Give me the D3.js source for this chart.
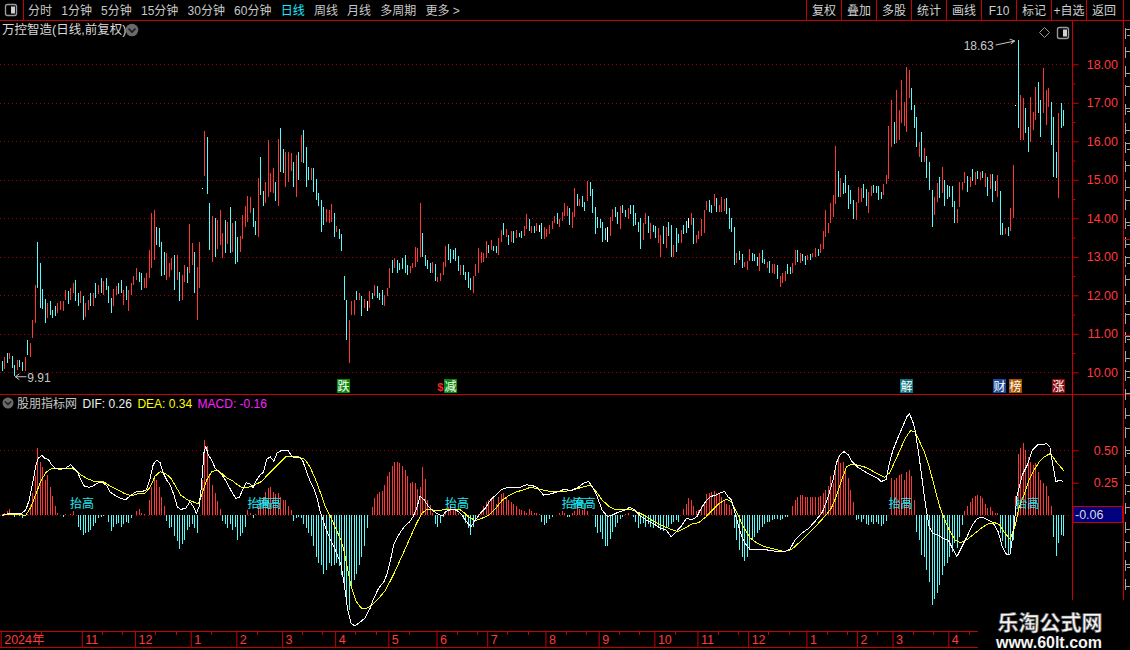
<!DOCTYPE html>
<html><head><meta charset="utf-8">
<script src="https://cdn.jsdelivr.net/npm/d3@7"></script>
<style>
html,body{margin:0;padding:0;background:#000;overflow:hidden}
svg{display:block}
text{font-family:"Liberation Sans","Noto Sans CJK SC",sans-serif}
</style></head><body>
<svg id="c" width="1130" height="650"></svg>
<script>
// ---------------- DATA ----------------
const highs = [
10.29,10.41,10.49,10.49,10.42,10.19,10.32,10.32,10.28,10.41,
10.84,10.77,11.36,12.27,13.39,12.85,12.16,11.90,11.79,11.84,
11.62,11.73,11.79,11.84,11.86,12.14,12.10,12.18,12.31,12.40,
12.07,12.10,11.97,11.81,11.88,12.05,12.05,12.31,12.27,12.44,
12.36,12.44,12.24,11.92,12.16,12.24,12.33,12.40,12.14,12.24,
12.14,12.31,12.50,12.70,12.61,12.57,12.44,12.57,13.18,14.15,
14.22,13.78,13.74,13.39,13.13,13.09,12.83,12.96,13.05,13.05,
12.61,12.53,12.79,12.74,13.85,13.35,13.13,12.74,13.39,14.78,
16.28,16.12,14.41,14.06,14.00,13.96,14.22,13.61,13.96,13.91,
14.29,13.87,13.94,13.52,13.54,14.09,14.32,14.58,14.55,14.26,
13.94,15.04,15.60,14.72,14.95,16.03,15.17,15.30,14.95,16.07,
16.34,15.79,15.73,15.71,15.69,15.45,15.65,15.71,16.16,16.29,
15.84,15.34,15.30,15.30,15.01,14.65,14.48,14.30,14.23,14.22,
14.37,14.15,13.80,13.71,13.58,12.50,11.88,11.36,11.84,11.88,
12.10,12.05,11.98,11.90,11.84,12.11,12.05,12.27,12.24,12.07,
12.14,12.01,12.18,12.70,12.92,12.96,12.92,12.85,12.96,13.05,
12.79,12.76,12.85,13.25,13.22,14.39,13.61,13.05,12.92,12.83,
12.87,12.81,12.48,12.59,12.87,13.28,13.33,13.19,13.18,13.22,
13.02,12.79,12.79,12.61,12.61,12.44,12.50,12.81,13.22,13.13,
13.09,13.42,13.31,13.44,13.28,13.28,13.48,13.70,13.87,13.71,
13.57,13.68,13.68,13.70,13.63,13.68,13.80,14.11,13.97,13.80,
13.80,13.87,13.83,13.87,13.78,13.71,13.83,13.94,14.06,14.13,
13.97,14.17,14.41,14.32,14.26,14.17,14.78,14.63,14.49,14.58,
14.43,14.98,14.93,14.75,14.30,14.04,13.97,13.91,13.74,13.78,
14.03,14.23,14.30,14.17,14.32,14.35,14.22,14.28,14.35,14.35,
14.15,13.91,14.00,13.89,14.15,14.06,13.87,13.83,13.80,13.74,
13.57,13.80,13.78,13.90,13.83,13.31,13.74,13.59,13.70,13.83,
13.94,14.00,14.15,14.00,13.57,13.68,13.97,14.22,14.46,14.48,
14.35,14.63,14.52,14.35,14.55,14.49,14.52,14.26,14.00,13.78,
13.09,13.16,13.07,12.87,12.90,13.19,13.09,13.07,13.00,13.09,
13.18,12.94,12.87,12.90,12.81,12.81,12.79,12.50,12.59,12.64,
12.81,12.73,12.83,13.18,13.18,13.11,13.07,13.02,13.05,13.07,
13.11,13.22,13.19,13.33,13.68,14.22,13.87,14.41,14.61,15.88,
15.24,15.04,14.91,15.13,14.87,14.74,14.48,14.43,14.82,14.78,
14.89,14.75,14.69,14.84,14.87,14.84,14.84,14.69,14.89,15.13,
16.40,17.07,16.51,17.33,16.81,17.58,17.03,17.92,17.84,17.38,
16.94,16.64,15.99,16.25,15.82,15.62,15.45,14.74,14.56,14.91,
15.08,15.34,15.00,14.87,14.84,14.84,14.46,14.23,14.93,14.93,
15.21,15.10,15.08,15.27,15.19,15.24,15.21,15.24,15.17,15.06,
15.15,15.15,14.98,15.13,14.72,13.89,13.74,13.78,14.26,15.39,
16.94,18.63,17.20,17.12,16.86,16.38,17.16,16.77,17.42,17.55,
17.07,17.90,17.33,17.38,17.03,16.64,15.73,16.73,16.99,16.81
];
const lows = [
10.04,10.08,10.23,10.34,10.10,9.91,10.06,10.15,10.04,10.04,
10.45,10.41,10.88,11.29,12.20,11.66,11.64,11.29,11.40,11.49,
11.40,11.45,11.53,11.62,11.58,11.88,11.77,11.88,12.05,11.84,
11.71,11.79,11.36,11.43,11.62,11.71,11.71,11.92,12.03,12.05,
12.01,12.14,11.79,11.53,11.71,12.01,12.03,12.05,11.75,11.88,
11.60,12.01,12.27,12.40,12.35,12.14,12.18,12.18,12.44,12.70,
12.92,13.31,13.26,12.50,12.53,12.40,12.48,12.66,12.14,12.40,
11.84,11.88,12.35,12.33,12.59,12.79,12.07,11.36,12.18,14.78,
15.10,14.63,13.18,12.87,13.00,13.19,13.31,12.96,13.11,13.33,
13.09,13.13,12.81,12.87,13.13,13.45,13.78,13.91,14.13,13.78,
13.57,13.52,14.61,14.32,14.41,14.56,14.69,14.65,14.46,14.32,
15.19,15.17,14.81,14.93,15.24,14.81,14.55,15.00,15.47,15.43,
14.82,15.00,15.00,14.69,14.48,14.32,13.65,13.83,13.91,13.87,
13.91,13.51,13.65,13.45,13.16,11.88,10.84,10.23,11.49,11.49,
11.88,11.88,11.46,11.66,11.58,11.66,11.90,11.98,11.92,11.88,
11.75,11.72,11.97,12.20,12.59,12.70,12.59,12.66,12.68,12.57,
12.53,12.59,12.70,12.73,12.87,13.00,13.00,12.76,12.68,12.57,
12.57,12.38,12.35,12.38,12.53,12.73,12.92,12.85,12.94,12.90,
12.64,12.53,12.53,12.40,12.18,12.14,12.07,12.50,12.57,12.85,
12.87,12.96,13.11,13.18,13.16,13.11,13.05,13.39,13.57,13.51,
13.31,13.39,13.37,13.48,13.51,13.48,13.54,13.71,13.68,13.63,
13.63,13.68,13.65,13.45,13.45,13.52,13.59,13.71,13.87,13.85,
13.78,13.94,14.06,14.06,13.83,13.74,14.03,14.32,14.32,14.29,
14.20,14.46,14.58,14.15,13.59,13.74,13.74,13.39,13.44,13.39,
13.54,13.94,14.04,13.85,13.71,14.13,14.04,13.97,14.11,13.80,
13.83,13.65,13.19,13.44,13.85,13.63,13.45,13.65,13.48,13.37,
12.99,13.33,13.22,13.54,12.99,13.00,13.13,13.37,13.37,13.59,
13.61,13.74,13.83,13.33,13.37,13.45,13.54,13.63,14.22,14.17,
14.15,14.32,14.17,14.17,14.17,14.20,14.11,13.71,13.65,12.79,
12.85,12.92,12.70,12.73,12.66,12.90,12.90,12.90,12.76,12.64,
12.83,12.81,12.70,12.57,12.57,12.55,12.42,12.21,12.33,12.38,
12.55,12.55,12.59,12.79,12.87,12.85,12.90,12.79,12.92,12.92,
12.99,13.00,13.02,13.11,13.19,13.51,13.63,13.87,14.04,14.37,
14.56,14.56,14.63,14.65,14.23,14.37,13.97,13.96,14.39,14.43,
14.52,14.32,14.13,14.58,14.67,14.67,14.48,14.49,14.61,14.89,
15.01,15.84,15.93,15.95,16.03,16.48,16.40,16.23,17.12,16.81,
16.34,15.86,15.58,15.47,15.45,15.04,14.74,13.77,14.09,14.43,
14.52,14.65,14.32,14.49,14.55,14.29,13.89,13.89,14.29,14.74,
14.91,14.69,14.81,14.98,14.87,15.01,15.00,15.04,14.81,14.58,
14.75,14.43,14.72,14.56,13.57,13.57,13.59,13.54,13.68,14.00,
16.94,16.34,16.03,16.03,16.21,15.71,15.99,16.29,16.55,16.73,
16.12,16.73,16.42,16.90,15.90,15.08,15.04,14.52,16.34,16.40
];
// r = up (red), c = down (cyan), w = flat, d = one-price bar
const dirs = (
"crcrccrccr"+"crrrccccrc"+"ccrrrrcrrc"+"crcrrcrcrc"+"rcccrrccrc"+"rrrrccrrrr"+
"rccccrrrcr"+"crrcrrcrrd"+"rccrcrrrcr"+"crccrrrrrc"+"crccrrrrcr"+"ccrrrcrcrc"+
"ccrcccccrr"+"rcrccccrrr"+"crcrwrcrcc"+"crrrcrcccc"+"crrrrrcccc"+"rcrrrrcccc"+
"crccccrrrr"+"rrcrccrrcr"+"crcrccrrcr"+"crwcrrrrrc"+"rrrrcrrcrc"+"crcccccccw"+
"rrccrccrcc"+"cccrrcrccr"+"rcrccrccrc"+"cwrcrrrrrc"+"crcrrrcccc"+"rccrrrcccr"+
"ccrcrrcrrr"+"ccrrcrccrc"+"rrcrrrrrrr"+"crcccccrrr"+"ccrrccccrr"+"rrcrrrrrrc"+
"ccrcrcccrr"+"crcccccrrr"+"rcrcrcrcrc"+"rccrccrcrr"+"dcrrccrrrc"+"crrrcccrcc").split("");

const macd = [
0.01,0.02,0.03,0.045,0.02,-0.01,0.01,-0.005,-0.02,0.005,
0.01,0.08,0.17,0.30,0.52,0.41,0.37,0.27,0.31,0.22,
0.15,0.07,0.02,0.0,-0.01,0.01,0.0,0.01,0.03,0.0,
-0.09,-0.11,-0.15,-0.14,-0.13,-0.11,-0.08,-0.06,-0.02,-0.015,
-0.005,0.0,-0.05,-0.12,-0.09,-0.07,-0.06,-0.09,-0.07,-0.05,
-0.06,-0.02,0.0,0.03,0.05,0.015,0.01,0.0,0.12,0.22,
0.30,0.27,0.22,0.14,0.07,-0.04,-0.10,-0.09,-0.16,-0.20,
-0.26,-0.22,-0.19,-0.11,-0.09,-0.07,-0.10,-0.14,0.0,0.27,
0.58,0.53,0.30,0.23,0.17,0.11,0.05,-0.04,-0.07,-0.10,
-0.07,-0.11,-0.09,-0.19,-0.16,-0.14,-0.09,0.04,0.015,-0.02,
0.01,0.07,0.12,0.14,0.18,0.21,0.22,0.18,0.16,0.17,
0.14,0.12,0.12,0.07,0.04,-0.04,-0.02,-0.015,-0.02,-0.07,
-0.10,-0.14,-0.16,-0.24,-0.32,-0.37,-0.38,-0.45,-0.42,-0.37,
-0.39,-0.38,-0.37,-0.39,-0.46,-0.55,-0.65,-0.73,-0.55,-0.50,
-0.45,-0.38,-0.32,-0.24,-0.10,0.0,0.06,0.13,0.16,0.18,
0.19,0.23,0.30,0.33,0.38,0.41,0.41,0.40,0.38,0.35,
0.30,0.25,0.26,0.25,0.20,0.22,0.37,0.28,0.12,0.08,
0.015,-0.07,-0.09,-0.06,-0.015,0.03,0.06,0.07,0.05,0.03,
0.02,0.0,-0.03,-0.06,-0.10,-0.15,-0.09,-0.04,0.01,0.03,
0.07,0.10,0.12,0.13,0.14,0.09,0.14,0.16,0.17,0.14,
0.12,0.105,0.09,0.07,0.05,0.04,0.03,0.015,0.05,0.03,
0.02,0.015,0.01,-0.05,-0.075,-0.06,-0.03,-0.015,0.0,0.0,
0.02,0.03,0.02,-0.01,-0.015,0.02,0.03,0.07,0.05,0.04,
0.05,0.03,0.0,0.0,-0.09,-0.14,-0.13,-0.18,-0.24,-0.24,
-0.18,-0.13,-0.09,-0.06,-0.03,-0.01,0.01,0.015,0.0,-0.01,
-0.05,-0.10,-0.07,-0.06,-0.09,-0.07,-0.09,-0.10,-0.07,-0.09,
-0.11,-0.12,-0.10,-0.09,-0.07,-0.05,-0.035,-0.05,0.0,0.05,
0.09,0.13,0.12,0.07,0.03,0.04,0.07,0.105,0.16,0.17,
0.18,0.19,0.17,0.16,0.14,0.12,0.09,0.08,0.05,-0.10,
-0.19,-0.27,-0.32,-0.35,-0.32,-0.26,-0.19,-0.17,-0.14,-0.11,
-0.09,-0.07,-0.055,-0.05,-0.035,-0.03,-0.025,-0.035,-0.025,-0.015,
-0.01,0.0,0.07,0.12,0.14,0.155,0.155,0.14,0.14,0.14,
0.14,0.14,0.14,0.15,0.17,0.195,0.225,0.30,0.25,0.35,
0.46,0.40,0.41,0.34,0.285,0.195,0.105,-0.035,-0.03,-0.05,
-0.03,-0.07,-0.075,-0.055,-0.065,-0.05,-0.065,-0.085,-0.065,-0.04,
0.0,0.285,0.27,0.29,0.31,0.32,0.27,0.33,0.345,0.30,
0.12,-0.125,-0.19,-0.305,-0.32,-0.42,-0.51,-0.69,-0.64,-0.60,
-0.54,-0.46,-0.39,-0.37,-0.32,-0.28,-0.215,-0.255,-0.165,-0.075,
0.03,0.07,0.105,0.13,0.15,0.155,0.15,0.13,0.09,0.055,
0.06,0.03,0.015,0.02,-0.14,-0.20,-0.25,-0.305,-0.29,-0.19,
0.145,0.475,0.515,0.56,0.505,0.45,0.41,0.385,0.40,0.335,
0.27,0.245,0.225,0.145,0.07,-0.165,-0.31,-0.215,-0.15,-0.16
];
// [bar index, value]
const difPts = [[0,0],[3.4,0.015],[7.5,0.01],[9.5,0.04],[10.9,0.12],[12.2,0.25],[13.6,0.39],[14.5,0.44],[15.9,0.46],[17,0.44],[18.4,0.43],[19.7,0.39],[21.1,0.36],[23.1,0.36],[25.1,0.36],[27.2,0.39],[28.5,0.36],[29.9,0.335],[31.3,0.27],[32.6,0.225],[34.4,0.215],[36,0.225],[38.1,0.25],[40.1,0.25],[41.5,0.225],[42.8,0.18],[44.9,0.15],[46.9,0.13],[48.9,0.12],[51,0.155],[53,0.18],[55,0.18],[57.1,0.195],[58.4,0.27],[59.8,0.39],[61.2,0.425],[62.5,0.405],[63.9,0.32],[65.2,0.27],[66.6,0.23],[68,0.155],[69.3,0.065],[70.7,0.045],[72.7,0.055],[74.3,0.105],[75.7,0.065],[76.8,0.015],[77.9,0.065],[78.8,0.22],[79.8,0.48],[80.6,0.53],[81.5,0.465],[82.9,0.425],[84.3,0.36],[85.6,0.335],[87,0.31],[88.3,0.27],[89.7,0.22],[91.1,0.17],[92.4,0.13],[93.8,0.14],[95.1,0.195],[96.5,0.25],[97.8,0.245],[99.2,0.215],[100.6,0.27],[101.9,0.31],[103.3,0.33],[104.6,0.43],[106,0.45],[107.4,0.415],[108.7,0.48],[110.1,0.495],[111.8,0.5],[113.2,0.495],[114.6,0.45],[116.2,0.445],[117.8,0.44],[118.9,0.415],[120.3,0.335],[121.6,0.27],[123,0.215],[124.3,0.145],[125.7,0.03],[127.1,-0.05],[128.4,-0.125],[129.8,-0.19],[131.1,-0.24],[132.5,-0.305],[133.9,-0.38],[135.2,-0.535],[136.6,-0.73],[137.9,-0.83],[139.3,-0.85],[141.3,-0.825],[143.4,-0.79],[145.4,-0.715],[146.8,-0.64],[148.8,-0.56],[150.9,-0.51],[152.2,-0.445],[153.6,-0.33],[154.9,-0.215],[157,-0.14],[159,-0.085],[161,-0.05],[162.4,-0.01],[163.8,0.055],[165.1,0.145],[166.7,0.12],[168.5,0.065],[170.5,0.03],[172.6,0.005],[173.9,-0.005],[175.3,0.03],[177.3,0.045],[179.4,0.04],[181.4,0.01],[183.5,-0.05],[185.2,-0.09],[186.8,-0.04],[188.9,0.015],[190.9,0.055],[193,0.12],[195,0.155],[197,0.195],[199.1,0.21],[201.8,0.215],[204.5,0.215],[207.2,0.235],[210,0.225],[211.2,0.215],[213.9,0.155],[216.6,0.165],[219.3,0.18],[222.1,0.2],[224.8,0.19],[227.5,0.215],[229.5,0.245],[231.6,0.26],[233,0.225],[235,0.145],[237,0.04],[239.1,-0.01],[241.1,0.003],[243.8,0.028],[245.9,0.04],[247.9,0.062],[249.9,0.04],[252,-0.005],[254.7,-0.04],[257.4,-0.067],[260.1,-0.1],[262.2,-0.113],[264.2,-0.165],[266.2,-0.126],[268.3,-0.082],[270.3,-0.023],[272.4,-0.036],[274.4,-0.01],[275.7,0.041],[277.8,0.105],[279.8,0.144],[281.8,0.156],[283.9,0.174],[285.3,0.182],[286.6,0.144],[288,0.118],[289.3,0.028],[290.7,-0.074],[292.1,-0.164],[293.4,-0.215],[295.5,-0.267],[298.2,-0.262],[300.9,-0.262],[303.6,-0.272],[306.3,-0.279],[309,-0.279],[311.1,-0.262],[313.1,-0.19],[315.8,-0.138],[318.5,-0.1],[321.3,-0.041],[324,0.028],[326,0.131],[328.1,0.272],[329.4,0.4],[330.8,0.464],[332.4,0.49],[334.2,0.464],[335.6,0.413],[337.6,0.374],[339.6,0.349],[341.7,0.323],[343.7,0.303],[345.7,0.285],[347.1,0.259],[349.1,0.277],[350.5,0.413],[351.8,0.503],[353.9,0.605],[355.9,0.695],[357.3,0.759],[358.3,0.779],[359.6,0.72],[360.6,0.644],[362,0.464],[363.4,0.259],[364.7,0.067],[366.1,-0.09],[367.4,-0.138],[369.5,-0.151],[371.5,-0.177],[373.6,-0.19],[374.9,-0.241],[377,-0.318],[379,-0.241],[381,-0.164],[383.1,-0.074],[385.1,-0.023],[387.1,-0.015],[389.2,-0.036],[391.2,-0.056],[393.3,-0.126],[394.9,-0.241],[396.7,-0.305],[398,-0.297],[399.4,-0.113],[400.7,0.144],[402.8,0.31],[404.8,0.387],[406.8,0.503],[408.9,0.541],[410.9,0.541],[412.3,0.554],[413.7,0.528],[415,0.374],[416.1,0.259],[417.7,0.272],[419,0.26]];
const deaPts = [[0,0],[4.8,0.01],[9.5,0],[11.6,0.065],[13.6,0.17],[15.6,0.27],[17.7,0.335],[19.7,0.36],[23.1,0.355],[26.5,0.36],[28.5,0.355],[31.3,0.31],[34,0.28],[36.7,0.26],[40.1,0.26],[42.8,0.225],[45.5,0.2],[48.2,0.17],[51,0.15],[53.7,0.165],[56.4,0.17],[58.4,0.21],[60.5,0.3],[62.5,0.335],[64.6,0.32],[66.6,0.29],[68.6,0.225],[70.7,0.155],[73.4,0.118],[75.4,0.105],[77.5,0.087],[78.8,0.145],[80.9,0.27],[82.9,0.335],[85,0.35],[87,0.32],[89,0.285],[91.1,0.265],[93.1,0.235],[95.1,0.21],[97.2,0.215],[99.9,0.235],[102.6,0.26],[105.3,0.318],[108,0.37],[110.1,0.41],[112.1,0.45],[114.2,0.455],[116.9,0.45],[119.6,0.43],[121.6,0.375],[123.7,0.285],[125.7,0.18],[127.7,0.065],[129.8,-0.01],[131.8,-0.1],[133.9,-0.19],[135.2,-0.28],[136.6,-0.42],[137.9,-0.55],[140,-0.665],[142,-0.715],[144.1,-0.715],[146.1,-0.69],[148.8,-0.64],[151.5,-0.575],[154.3,-0.47],[157,-0.355],[159.7,-0.24],[161.7,-0.15],[163.8,-0.06],[165.8,0.015],[167.8,0.046],[170.5,0.04],[173.3,0.04],[176,0.046],[178.7,0.046],[181.4,0.04],[184.1,-0.01],[186.9,-0.04],[189.6,-0.023],[192.3,0.003],[195,0.054],[197.7,0.118],[200.5,0.156],[203.1,0.18],[205.9,0.195],[208.6,0.215],[212.5,0.2],[216.6,0.182],[220.7,0.182],[224.8,0.19],[228.9,0.215],[232.3,0.233],[234.3,0.19],[237,0.118],[239.7,0.067],[242.5,0.041],[245.2,0.041],[247.9,0.046],[250.6,0.028],[253.3,0.003],[256,-0.031],[258.8,-0.062],[261.5,-0.087],[264.2,-0.108],[266.9,-0.126],[269.6,-0.1],[272.4,-0.067],[275.1,-0.056],[277.8,-0.015],[280.5,0.041],[283.2,0.092],[285.9,0.123],[288,0.105],[290,0.028],[292.7,-0.087],[295.5,-0.177],[298.2,-0.215],[300.9,-0.241],[303.6,-0.254],[306.3,-0.267],[309,-0.279],[311.8,-0.262],[314.5,-0.215],[317.2,-0.164],[319.9,-0.113],[322.6,-0.056],[325.4,0.003],[327.4,0.054],[329.4,0.144],[331.5,0.272],[333.5,0.374],[335.6,0.395],[337.6,0.387],[340.3,0.374],[343,0.349],[345.7,0.318],[348.4,0.292],[350.5,0.328],[352.5,0.413],[354.6,0.503],[356.6,0.592],[358.7,0.651],[360.4,0.644],[362,0.579],[364.1,0.49],[366.1,0.374],[368.1,0.221],[370.2,0.067],[372.2,-0.036],[374.3,-0.126],[376.3,-0.19],[378.4,-0.21],[381.1,-0.185],[383.8,-0.144],[386.5,-0.1],[389.2,-0.067],[391.9,-0.056],[393.9,-0.074],[396,-0.138],[398,-0.185],[400.1,-0.074],[401.4,0.054],[403.5,0.156],[405.5,0.272],[407.5,0.349],[409.6,0.413],[411.6,0.451],[413.6,0.472],[415,0.446],[416.6,0.4],[418.8,0.354],[419,0.34]];

const priceTicks = [10,11,12,13,14,15,16,17,18];
const priceMinor = [10.5,11.5,12.5,13.5,14.5,15.5,16.5,17.5];
const macdTicks = [0.25,0.5];
const monthIdx = [0,32,53,75,93,111,132,153,172,192,215,236,258,275,295,318,338,352,374];
const monthText = ["2024年","11","12","1","2","3","4","5","6","7","8","9","10","11","12","1","2","3","4"];
const markerIdx = [135,177,357,394,400,417];
const markerText = ["跌","减","解","财","榜","涨"];
const liftIdx = [27,97,101,175,221,225,350,400];
const liftText = "抬高";
const liftLevel = 0.06;
const axisValue = -0.06;
const menuItems = ["分时","1分钟","5分钟","15分钟","30分钟","60分钟","日线","周线","月线","多周期","更多 >"];
const activeMenu = "日线";
const buttons = ["复权","叠加","多股","统计","画线","F10","标记","+自选","返回"];
const title = "万控智造(日线,前复权)";
const indName = "股朋指标网";

// ---------------- STYLE ----------------
const RED="#ff3636", CYAN="#54fcfc", FRAME="#c80000", GRID="#a00000", AXT="#ff3a3a";
const markerBg = {"跌":"#0a8a0a","减":"#0a8a0a","解":"#0b7480","财":"#1b4a9a","榜":"#a85400","涨":"#8c0a0a"};

const svg = d3.select("#c");
svg.append("rect").attr("width",1130).attr("height",650).attr("fill","#000");

const x = d3.scaleLinear().domain([0, highs.length-1]).range([1.7, 1063.3]);
const yP = d3.scaleLinear().domain([10,18]).range([372.3,64.3]);
const yI = d3.scaleLinear().domain([0,0.5]).range([515.3,450.3]);
const px = i => Math.round(x(i));

// ---- toolbar ----
const tb = svg.append("g");
tb.append("line").attr("x1",0).attr("x2",1130).attr("y1",20.5).attr("y2",20.5).attr("stroke",FRAME);
tb.append("line").attr("x1",23.5).attr("x2",23.5).attr("y1",0).attr("y2",20).attr("stroke",FRAME);
function panelIcon(g,x0,y0){
  g.append("rect").attr("x",x0+0.5).attr("y",y0+0.5).attr("width",11).attr("height",11).attr("rx",2)
   .attr("fill","none").attr("stroke","#9a9a9a").attr("stroke-width",1.4);
  g.append("rect").attr("x",x0+6).attr("y",y0+2.5).attr("width",4).attr("height",7).attr("fill","#d0d0d0");
}
panelIcon(tb,5,4);
let mx = 28;
menuItems.forEach(t=>{
  const el = tb.append("text").attr("x",mx).attr("y",14.5).attr("font-size",12)
    .attr("fill", t===activeMenu ? "#1ee8ff" : "#c8c8c8").text(t);
  mx += el.node().getComputedTextLength() + 9.2;
});
buttons.forEach((t,k)=>{
  const x0 = 806.5 + 35*k;
  tb.append("line").attr("x1",x0).attr("x2",x0).attr("y1",0).attr("y2",20).attr("stroke",FRAME);
  tb.append("text").attr("x",x0+17.5).attr("y",14.5).attr("text-anchor","middle").attr("font-size",12)
    .attr("fill","#d0d0d0").text(t);
});

// ---- frame lines ----
svg.append("line").attr("x1",1072.5).attr("x2",1072.5).attr("y1",21).attr("y2",600).attr("stroke",FRAME);
svg.append("line").attr("x1",1123.5).attr("x2",1123.5).attr("y1",0).attr("y2",650).attr("stroke",FRAME);
svg.append("line").attr("x1",0).attr("x2",1130).attr("y1",394.5).attr("y2",394.5).attr("stroke",FRAME);

// right strip: edge of a neighbouring panel (glyph fragments drawn as strokes)
const strip = svg.append("g").attr("shape-rendering","crispEdges");
d3.range(0,30).forEach(k=>{
  const yy = 28 + 19*k;
  strip.append("rect").attr("x",1125).attr("y",yy).attr("width",1).attr("height",11).attr("fill","#a8a8a8");
  strip.append("rect").attr("x",1125).attr("y",yy+(k%3)*3+1).attr("width",5).attr("height",1).attr("fill","#a8a8a8");
  if (k%2===0) strip.append("rect").attr("x",1127).attr("y",yy+7).attr("width",3).attr("height",1).attr("fill","#a8a8a8");
});
strip.append("line").attr("x1",1124).attr("x2",1130).attr("y1",239.5).attr("y2",239.5).attr("stroke",FRAME);
strip.append("line").attr("x1",1124).attr("x2",1130).attr("y1",335.5).attr("y2",335.5).attr("stroke",FRAME);

// ---- title row ----
svg.append("text").attr("x",2).attr("y",34).attr("font-size",12.5).attr("fill","#d8d8d8").text(title);
svg.append("circle").attr("cx",132).attr("cy",30).attr("r",6.3).attr("fill","#6a6a6a");
svg.append("path").attr("d","M128.5,28.5 L132,32 L135.5,28.5").attr("fill","none").attr("stroke","#1a1a1a").attr("stroke-width",1.6);
svg.append("path").attr("d","M1044.5,27.5 L1049.5,32.5 L1044.5,37.5 L1039.5,32.5 Z").attr("fill","none").attr("stroke","#9a9a9a");
panelIcon(svg,1057,27);

// ---- price grid ----
const gGrid = svg.append("g");
gGrid.selectAll("line").data(priceTicks).join("line")
  .attr("x1",0).attr("x2",1070).attr("y1",d=>Math.round(yP(d))+0.5).attr("y2",d=>Math.round(yP(d))+0.5)
  .attr("stroke",GRID).attr("stroke-dasharray","1,3");

// ---- candles ----
const bars = highs.map((h,i)=>({i,h,l:lows[i],d:dirs[i]||"r"}));
svg.append("g").attr("shape-rendering","crispEdges").selectAll("rect").data(bars).join("rect")
  .attr("x",d=>px(d.i)).attr("y",d=>Math.round(yP(d.h)))
  .attr("width",1).attr("height",d=>Math.max(1,Math.round(yP(d.l))-Math.round(yP(d.h))))
  .attr("fill",d=>d.d==="r"?RED:(d.d==="c"?CYAN:"#ffffff"));

// ---- max / min labels ----
const iMax = d3.maxIndex(highs), iMin = d3.minIndex(lows);
const mxX = x(iMax), mxY = yP(highs[iMax]);
svg.append("text").attr("x",mxX-24).attr("y",mxY+10).attr("text-anchor","end").attr("font-size",12).attr("fill","#c8c8c8").text(highs[iMax].toFixed(2));
svg.append("path").attr("d",`M${mxX-22},${mxY+5} L${mxX-3},${mxY+1} M${mxX-8},${mxY-1} L${mxX-3},${mxY+1} L${mxX-7},${mxY+4}`)
  .attr("fill","none").attr("stroke","#c8c8c8");
const mnX = x(iMin), mnY = yP(lows[iMin]);
svg.append("path").attr("d",`M${mnX+12},${mnY+1} L${mnX+1},${mnY+1} M${mnX+5},${mnY-2} L${mnX+1},${mnY+1} L${mnX+5},${mnY+4}`)
  .attr("fill","none").attr("stroke","#c8c8c8");
svg.append("text").attr("x",mnX+13).attr("y",mnY+6).attr("font-size",12).attr("fill","#c8c8c8").text(lows[iMin].toFixed(2));

// ---- event markers ----
const gM = svg.append("g");
markerIdx.forEach((idx,k)=>{
  const cx = x(idx);
  gM.append("rect").attr("x",Math.round(cx-6.5)).attr("y",379).attr("width",13).attr("height",14).attr("fill",markerBg[markerText[k]]);
  gM.append("text").attr("x",Math.round(cx-6.5)+6.5).attr("y",391).attr("text-anchor","middle").attr("font-size",12)
    .attr("fill","#ffffff").attr("font-family","Noto Sans CJK SC").text(markerText[k]);
});
gM.append("text").attr("x",x(markerIdx[1])-13).attr("y",391).attr("font-size",11).attr("font-weight","bold").attr("fill","#ff2020").text("$");

// ---- price axis ----
const axP = svg.append("g").attr("transform","translate(1072.5,0)")
  .call(d3.axisRight(yP).tickValues(priceTicks).tickSize(6).tickFormat(d3.format(".2f")));
axP.select(".domain").remove();
axP.selectAll("line").attr("stroke",FRAME);
axP.selectAll("text").attr("x",45.5).attr("text-anchor","end").attr("fill",AXT).attr("font-size",12.5)
  .attr("font-family","Liberation Sans");
const axPm = svg.append("g").attr("transform","translate(1072.5,0)")
  .call(d3.axisRight(yP).tickValues(priceMinor).tickSize(3).tickFormat(""));
axPm.select(".domain").remove();
axPm.selectAll("line").attr("stroke",FRAME);

// ---- indicator title ----
svg.append("circle").attr("cx",8).attr("cy",403).attr("r",5.5).attr("fill","#6a6a6a");
svg.append("path").attr("d","M5,401.5 L8,404.5 L11,401.5").attr("fill","none").attr("stroke","#1a1a1a").attr("stroke-width",1.5);
let lx = 17;
[[indName,"#c8c8c8"],
 ["DIF: "+difPts[difPts.length-1][1].toFixed(2),"#f0f0f0"],
 ["DEA: "+deaPts[deaPts.length-1][1].toFixed(2),"#ffff00"],
 ["MACD: "+macd[macd.length-1].toFixed(2),"#ff20ff"]].forEach(([t,c])=>{
  const el = svg.append("text").attr("x",lx).attr("y",408).attr("font-size",12).attr("fill",c).text(t);
  lx += el.node().getComputedTextLength() + 5.5;
});

// ---- indicator grid ----
[0,0.5].forEach(v=>{
  svg.append("line").attr("x1",0).attr("x2",1070).attr("y1",Math.round(yI(v))+0.5).attr("y2",Math.round(yI(v))+0.5)
    .attr("stroke",GRID).attr("stroke-dasharray","1,3");
});

// ---- histogram ----
const y0 = Math.round(yI(0));
svg.append("g").attr("shape-rendering","crispEdges").selectAll("rect")
  .data(macd.map((v,i)=>({i,v})).filter(d=>d.v!==0)).join("rect")
  .attr("x",d=>px(d.i)).attr("width",1)
  .attr("y",d=>d.v>0?Math.round(yI(d.v)):y0)
  .attr("height",d=>Math.max(1,Math.abs(Math.round(yI(d.v))-y0)))
  .attr("fill",d=>d.v>0?RED:CYAN);

// ---- DIF / DEA lines ----
const line = d3.line().x(d=>x(d[0])).y(d=>yI(d[1]));
svg.append("path").attr("d",line(deaPts)).attr("fill","none").attr("stroke","#ffff00").attr("stroke-width",1).attr("shape-rendering","crispEdges");
svg.append("path").attr("d",line(difPts)).attr("fill","none").attr("stroke","#ffffff").attr("stroke-width",1).attr("shape-rendering","crispEdges");

// ---- 抬高 labels ----
liftIdx.forEach(idx=>{
  svg.append("text").attr("x",x(idx)).attr("y",yI(liftLevel)).attr("font-size",12)
    .attr("font-family","Noto Sans CJK SC").attr("fill","#22e8f2").text(liftText);
});

// ---- indicator axis ----
const axI = svg.append("g").attr("transform","translate(1072.5,0)")
  .call(d3.axisRight(yI).tickValues(macdTicks).tickSize(6).tickFormat(d3.format(".2f")));
axI.select(".domain").remove();
axI.selectAll("line").attr("stroke",FRAME);
axI.selectAll("text").attr("x",45.5).attr("text-anchor","end").attr("fill",AXT).attr("font-size",12.5)
  .attr("font-family","Liberation Sans");
const by = Math.round(yI(axisValue));
svg.append("rect").attr("x",1073).attr("y",by-16.5).attr("width",49.5).attr("height",16).attr("fill","#00007e")
  .attr("stroke",FRAME).attr("stroke-width",1);
svg.append("text").attr("x",1075).attr("y",by-4).attr("font-size",12.5).attr("fill","#d8d8d8").text(axisValue.toFixed(2));

// ---- time axis ----
const gX = svg.append("g");
gX.append("line").attr("x1",0).attr("x2",978).attr("y1",631.5).attr("y2",631.5).attr("stroke",FRAME);
gX.append("line").attr("x1",0).attr("x2",978).attr("y1",647.5).attr("y2",647.5).attr("stroke",FRAME);
const axX = gX.append("g").attr("transform","translate(-1,631.5)")
  .call(d3.axisBottom(x).tickValues(monthIdx).tickSize(16).tickFormat((d,k)=>monthText[k]));
axX.select(".domain").remove();
axX.selectAll("line").attr("stroke",FRAME);
axX.selectAll("text").attr("x",3).attr("y",2.5).attr("dy","0.78em").attr("text-anchor","start")
  .attr("fill",AXT).attr("font-size",12.5);
const minorX = [];
monthIdx.forEach((m,k)=>{
  const next = k+1<monthIdx.length ? monthIdx[k+1] : 386;
  [8,16].forEach(o=>{ if(m+o < next-3) minorX.push(m+o); });
});
gX.selectAll("line.mn").data(minorX).join("line").attr("class","mn")
  .attr("x1",d=>px(d)-0.5).attr("x2",d=>px(d)-0.5).attr("y1",632).attr("y2",635).attr("stroke",FRAME);

// ---- watermark ----
svg.append("rect").attr("x",978).attr("y",600).attr("width",152).attr("height",50).attr("fill","#000");
svg.append("text").attr("x",1050).attr("y",630).attr("text-anchor","middle").attr("font-size",21).attr("font-weight","bold")
  .attr("font-family","Noto Sans CJK SC").attr("fill","#f4f4f4").attr("stroke","#6a6a6a").attr("stroke-width",0.6).text("乐淘公式网");
svg.append("text").attr("x",1049).attr("y",648).attr("text-anchor","middle").attr("font-size",16).attr("font-weight","bold")
  .attr("font-family","Liberation Serif").attr("fill","#f4f4f4").text("www.60lt.com");
</script></body></html>
